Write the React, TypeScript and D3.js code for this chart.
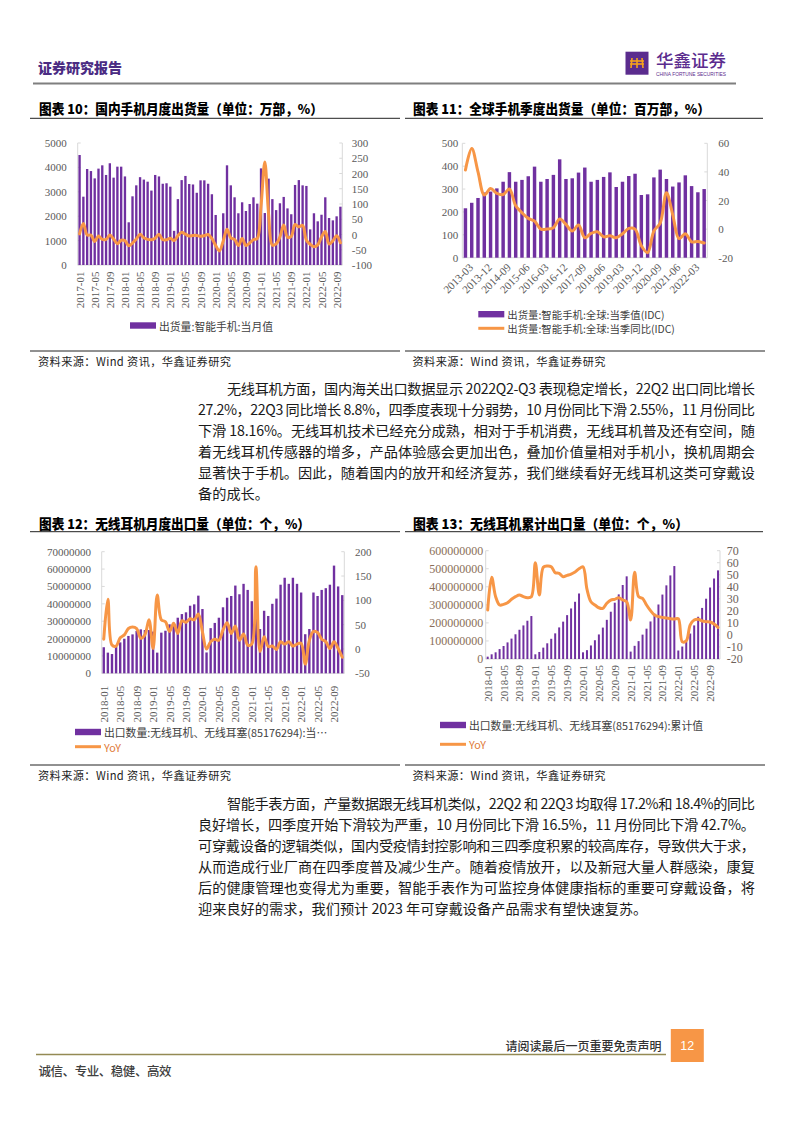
import React from "react";
import * as d3 from "d3";

// ---------- categories ----------
function months(y: number, m: number, n: number): string[] {
  const out: string[] = [];
  for (let i = 0; i < n; i++) {
    const mm = ((m - 1 + i) % 12) + 1;
    const yy = y + Math.floor((m - 1 + i) / 12);
    out.push(`${yy}-${String(mm).padStart(2, "0")}`);
  }
  return out;
}
function quarters(y: number, n: number): string[] {
  const out: string[] = [];
  for (let i = 0; i < n; i++) {
    const q = (i % 4) + 1;
    out.push(`${y + Math.floor(i / 4)}-${String(q * 3).padStart(2, "0")}`);
  }
  return out;
}

// ---------- Chart 10: domestic phone monthly shipments ----------
const c10Cats = months(2017, 1, 70);
const c10Ship = [
  4508, 2800, 3934, 3850, 3550, 3950, 4085, 3690, 4170, 3580, 4030, 4030,
  3630, 1750, 2815, 3265, 3600, 3500, 3415, 3050, 3690, 3630, 3330, 3350,
  3210, 1400, 2700, 3480, 3650, 3320, 3300, 2960, 3470, 3470, 3330, 2900,
  2050, 640, 2120, 4085, 3265, 2775, 2120, 2570, 2213, 2500, 2775, 2515,
  3960, 2130, 3540, 2700, 2250, 2530, 2790, 2320, 2080, 3280, 3480, 3265,
  3240, 1460, 2120, 1790, 2060, 2775, 1925, 1830, 1995, 2390,
];
const c10Yoy = [
  2, 36, -2, -2, -23, -5, -16, -16, -2, -15, -30, -19,
  -20, -37, -28, -15, 1, -11, -16, -17, -12, 1, -17, -17,
  -12, -20, -4, 7, 1, -5, -3, -3, -6, -4, 0, -13,
  -36, -54, -21, 17, -11, -16, -36, -13, -36, -28, -17, -13,
  93, 238, 67, -35, -31, -8, 31, -9, -6, 33, 25, 30,
  -19, -32, -40, -34, -8, 10, -31, -21, -4, -27,
];
const c10LeftTicks = [0, 1000, 2000, 3000, 4000, 5000];
const c10RightTicks = [-100, -50, 0, 50, 100, 150, 200, 250, 300];

// ---------- Chart 11: global smartphone quarterly shipments ----------
const c11Cats = quarters(2013, 39);
const c11Ship = [
  216, 240, 261, 285, 289, 303, 332, 374, 332, 340, 356, 398, 332, 344, 362, 430,
  344, 347, 372, 394, 332, 340, 353, 373, 309, 332, 357, 367, 274, 277, 351, 385,
  344, 311, 329, 360, 313, 286, 300,
];
const c11Yoy = [
  41.3, 56.4, 40, 23.8, 28.4, 25, 24.2, 28, 16.3, 11.4, 7.5, 5.6, 0, 0, 1, 7,
  3.3, -1.4, 2.8, -6, -3, -1.9, -5.4, -4.7, -6, -3.3, 0.5, 0, -11.7, -16.5, -1.3, 4.2,
  25.5, 10, -6.7, -3.2, -8.9, -8.7, -9.7,
];
const c11LeftTicks = [0, 100, 200, 300, 400, 500];
const c11RightTicks = [-20, 0, 20, 40, 60];

// ---------- Chart 12: wireless earphone monthly exports (million units) ----------
const c12Cats = months(2018, 1, 59);
const c12Exports = [
  15, 11.9, 11.1, 15.3, 17.8, 19.9, 21.5, 22.4, 24.4, 25.3, 24.9, 24.9,
  24, 11.9, 23.4, 24.5, 28.2, 29.1, 32, 34.1, 35.1, 38.9, 39.7, 44.7,
  37, 12, 26, 29, 32, 38, 43.5, 44.5, 50.5, 45.5, 51.5, 48,
  41.5, 32, 25.5, 36, 33, 40, 43, 51, 55, 51.5, 55, 51.5,
  46.5, 22.5, 25.5, 46.5, 44.5, 48, 49, 51, 62, 50, 45,
];
const c12Yoy = [
  20, 102, 8, 6, 23, 29, 42, 45, 42, 22, 29, 60,
  1, 111, 60, 56, 36, 53, 32, 58, 55, 62, 60, 72,
  35, 0, 15, 20, 18, 39, 54, 32, 47, 18, 31, 8,
  10, 169, -5, 25, 5, 6, -1, 15, 10, 15, 6, 10,
  12, -31, 18, 36, 34, 20, 15, 1, 15, 1, -17,
];
const c12LeftTicks = [0, 10, 20, 30, 40, 50, 60, 70];
const c12RightTicks = [-50, 0, 50, 100, 150, 200];

// ---------- Chart 13: wireless earphone cumulative exports (million units) ----------
const c13Cats = months(2018, 1, 59);
const c13Cum = [
  13, 26, 37, 55, 72, 92, 113, 137, 162, 186, 212, 238,
  26, 39, 63, 87, 112, 142, 175, 207, 243, 280, 317, 363,
  37, 49, 75, 104, 136, 174, 217, 262, 312, 358, 410, 458,
  41, 73, 99, 135, 168, 208, 251, 302, 357, 408, 463, 515,
  47, 69, 95, 141, 186, 234, 283, 334, 396, 446, 491,
];
const c13Yoy = [
  20.7, 47.9, 31.8, 24.9, 25.4, 26.8, 29.6, 31.8, 33.2, 31.8, 31, 31.8,
  60, 33.2, 56.2, 57.3, 56.7, 51.7, 51.2, 48.4, 49.5, 50.6, 52.3, 55,
  56.5, 38, 27.6, 24.9, 22.6, 22.1, 26.3, 29, 29.6, 31, 29, 27.6,
  12.4, 52, 31.8, 30.4, 24.9, 20.2, 16.6, 15.2, 14.6, 14.1, 13.5, 13.2,
  13.5, -5.6, -5, 8.3, 12.4, 13, 11.6, 11, 10.7, 9.1, 6.3,
];
const c13LeftTicks = [0, 100, 200, 300, 400, 500, 600];
const c13RightTicks = [-20, -10, 0, 10, 20, 30, 40, 50, 60, 70];

// ---------- text ----------
const para1 = [
  "无线耳机方面，国内海关出口数据显示 2022Q2-Q3 表现稳定增长，22Q2 出口同比增长",
  "27.2%，22Q3 同比增长 8.8%，四季度表现十分弱势，10 月份同比下滑 2.55%，11 月份同比",
  "下滑 18.16%。无线耳机技术已经充分成熟，相对于手机消费，无线耳机普及还有空间，随",
  "着无线耳机传感器的增多，产品体验感会更加出色，叠加价值量相对手机小，换机周期会",
  "显著快于手机。因此，随着国内的放开和经济复苏，我们继续看好无线耳机这类可穿戴设",
  "备的成长。",
];
const para2 = [
  "智能手表方面，产量数据跟无线耳机类似，22Q2 和 22Q3 均取得 17.2%和 18.4%的同比",
  "良好增长，四季度开始下滑较为严重，10 月份同比下滑 16.5%，11 月份同比下滑 42.7%。",
  "可穿戴设备的逻辑类似，国内受疫情封控影响和三四季度积累的较高库存，导致供大于求，",
  "从而造成行业厂商在四季度普及减少生产。随着疫情放开，以及新冠大量人群感染，康复",
  "后的健康管理也变得尤为重要，智能手表作为可监控身体健康指标的重要可穿戴设备，将",
  "迎来良好的需求，我们预计 2023 年可穿戴设备产品需求有望快速复苏。",
];

const PURPLE = "#7030A0";
const ORANGE = "#F79646";
const AXIS_TXT = "#595959";
const CJK = "'Noto Sans CJK SC', 'Noto Sans', sans-serif";
const SERIF = "'Liberation Serif', 'DejaVu Serif', serif";

type ComboProps = {
  cats: string[];
  bars: number[];
  line: number[];
  x0: number;
  x1: number;
  y0: number;
  y1: number;
  lDomain: [number, number];
  lTicks: number[];
  lFmt: (v: number) => string;
  rDomain: [number, number];
  rTicks: number[];
  padInner: number;
  labelStep: number;
  angle: number;
  labelOffset: number;
  lGap: number;
  rGap: number;
  fontSize: number;
  lColor?: string;
  rColor?: string;
};

function Combo(p: ComboProps) {
  const x = d3
    .scaleBand<string>()
    .domain(p.cats)
    .range([p.x0, p.x1])
    .paddingInner(p.padInner)
    .paddingOuter(p.padInner / 2);
  const yL = d3.scaleLinear().domain(p.lDomain).range([p.y1, p.y0]);
  const yR = d3.scaleLinear().domain(p.rDomain).range([p.y1, p.y0]);
  const bw = x.bandwidth();
  const cx = (i: number) => (x(p.cats[i]) as number) + bw / 2;
  const lineGen = d3
    .line<number>()
    .x((_, i) => cx(i))
    .y((d) => yR(d))
    .curve(d3.curveCatmullRom.alpha(0.5));
  const axisColor = "#D9D9D9";
  return (
    <g>
      <line x1={p.x0} x2={p.x0} y1={p.y0} y2={p.y1} stroke={axisColor} strokeWidth={1} />
      <line x1={p.x1} x2={p.x1} y1={p.y0} y2={p.y1} stroke={axisColor} strokeWidth={1} />
      <line x1={p.x0} x2={p.x1} y1={p.y1} y2={p.y1} stroke={axisColor} strokeWidth={1} />
      {p.lTicks.map((t) => (
        <g key={"l" + t}>
          <line x1={p.x0} x2={p.x0 + 3} y1={yL(t)} y2={yL(t)} stroke={axisColor} />
          <text
            x={p.x0 - p.lGap}
            y={yL(t)}
            textAnchor="end"
            dominantBaseline="central"
            fontFamily={SERIF}
            fontSize={p.fontSize}
            fill={p.lColor || AXIS_TXT}
          >
            {p.lFmt(t)}
          </text>
        </g>
      ))}
      {p.rTicks.map((t) => (
        <g key={"r" + t}>
          <line x1={p.x1 - 3} x2={p.x1} y1={yR(t)} y2={yR(t)} stroke={axisColor} />
          <text
            x={p.x1 + p.rGap}
            y={yR(t)}
            textAnchor="start"
            dominantBaseline="central"
            fontFamily={SERIF}
            fontSize={p.fontSize}
            fill={p.rColor || AXIS_TXT}
          >
            {t}
          </text>
        </g>
      ))}
      {p.bars.map((v, i) => (
        <rect
          key={"b" + i}
          x={x(p.cats[i])}
          y={yL(v)}
          width={bw}
          height={p.y1 - yL(v)}
          fill={PURPLE}
        />
      ))}
      <path
        d={lineGen(p.line) || ""}
        fill="none"
        stroke={ORANGE}
        strokeWidth={3}
        strokeLinejoin="round"
        strokeLinecap="round"
      />
      {p.cats.map((c, i) =>
        i % p.labelStep === 0 ? (
          p.angle === -90 ? (
            <text
              key={"x" + c}
              transform={`translate(${cx(i)},${p.y1 + p.labelOffset}) rotate(-90)`}
              textAnchor="end"
              dominantBaseline="central"
              fontFamily={SERIF}
              fontSize={11}
              fill={AXIS_TXT}
            >
              {c}
            </text>
          ) : (
            <text
              key={"x" + c}
              transform={`translate(${cx(i) + 3},${p.y1 + p.labelOffset}) rotate(-45)`}
              textAnchor="end"
              dy="0.7em"
              fontFamily={SERIF}
              fontSize={11}
              fill={AXIS_TXT}
            >
              {c}
            </text>
          )
        ) : null
      )}
    </g>
  );
}

function Title({ x, y, text, w }: { x: number; y: number; text: string; w: number }) {
  return (
    <text
      x={x}
      y={y}
      dominantBaseline="central"
      fontFamily={CJK}
      fontWeight={900}
      fontSize={13.5}
      fill="#000"
      textLength={w}
      lengthAdjust="spacingAndGlyphs"
    >
      {text}
    </text>
  );
}

function LegendBar({ x, y, text, fs = 10.8 }: { x: number; y: number; text: string; fs?: number }) {
  return (
    <g>
      <rect x={x} y={y - 3.2} width={26} height={6.4} fill={PURPLE} />
      <text x={x + 29} y={y} dominantBaseline="central" fontFamily={CJK} fontSize={fs} fill="#404040">
        {text}
      </text>
    </g>
  );
}
function LegendLine({ x, y, text, color, fs = 10.8 }: { x: number; y: number; text: string; color?: string; fs?: number }) {
  return (
    <g>
      <line x1={x} x2={x + 26} y1={y} y2={y} stroke={ORANGE} strokeWidth={3} />
      <text x={x + 29} y={y} dominantBaseline="central" fontFamily={CJK} fontSize={fs} fill={color || "#404040"}>
        {text}
      </text>
    </g>
  );
}

function Paragraph({ lines, y0 }: { lines: string[]; y0: number }) {
  return (
    <g>
      {lines.map((l, i) => {
        const indent = i === 0;
        const x = indent ? 227 : 198;
        const last = i === lines.length - 1;
        return (
          <text
            key={i}
            x={x}
            y={y0 + i * 21}
            dominantBaseline="central"
            fontFamily={CJK}
            fontSize={14.2}
            fill="#1a1a1a"
            {...(last ? {} : { textLength: 755 - x, lengthAdjust: "spacing" })}
          >
            {l}
          </text>
        );
      })}
    </g>
  );
}

export default function App() {
  const fmtInt = (v: number) => String(v);
  const fmtMillion = (v: number) => String(Math.round(v * 1e6));
  return (
    <svg
      width={794}
      height={1123}
      viewBox="0 0 794 1123"
      style={{ position: "absolute", left: 0, top: 0, background: "#fff" }}
    >
      <rect x={0} y={0} width={794} height={1123} fill="#fff" />
      {/* header */}
      <text x={38} y={67} dominantBaseline="central" fontFamily={CJK} fontWeight={900} fontSize={14} fill="#4B2C83" textLength={84}>
        证券研究报告
      </text>
      <rect x={625.5} y={51.7} width={23} height={23} fill="#5B2C8E" />
      <g stroke="#F7A21B" strokeWidth={1.6} fill="none">
        <line x1={630} x2={644} y1={61} y2={61} />
        <line x1={630} x2={644} y1={64} y2={64} />
        <line x1={632} x2={631} y1={58} y2={68} />
        <line x1={637} x2={637} y1={58} y2={68} />
        <line x1={642} x2={643} y1={58} y2={68} />
      </g>
      <text x={656} y={59.5} dominantBaseline="central" fontFamily={CJK} fontWeight={500} fontSize={17.5} fill="#5B2C8E" textLength={70} lengthAdjust="spacingAndGlyphs">
        华鑫证券
      </text>
      <text x={656} y={74} dominantBaseline="central" fontFamily="'Liberation Sans', sans-serif" fontSize={5.2} fill="#5B2C8E" textLength={70} lengthAdjust="spacingAndGlyphs">
        CHINA FORTUNE SECURITIES
      </text>
      <line x1={33} x2={736} y1={83.5} y2={83.5} stroke="#7F7F7F" strokeWidth={2} />

      {/* titles row 1 */}
      <Title x={39} y={108.3} w={284} text="图表 10：国内手机月度出货量（单位：万部，%）" />
      <Title x={413} y={108.3} w={297} text="图表 11：全球手机季度出货量（单位：百万部，%）" />
      <line x1={30} x2={400} y1={118.3} y2={118.3} stroke="#222" strokeWidth={1} />
      <line x1={405} x2={763} y1={118.3} y2={118.3} stroke="#222" strokeWidth={1} />

      <Combo
        cats={c10Cats}
        bars={c10Ship}
        line={c10Yoy}
        x0={77.7}
        x1={342.3}
        y0={143}
        y1={265}
        lDomain={[0, 5000]}
        lTicks={c10LeftTicks}
        lFmt={fmtInt}
        rDomain={[-100, 300]}
        rTicks={c10RightTicks}
        padInner={0.38}
        labelStep={4}
        angle={-90}
        labelOffset={6.5}
        lGap={11}
        rGap={9.5}
        fontSize={11}
      />
      <LegendBar x={130} y={325.5} text="出货量:智能手机:当月值" />

      <Combo
        cats={c11Cats}
        bars={c11Ship}
        line={c11Yoy}
        x0={462.3}
        x1={707.3}
        y0={143.3}
        y1={257.7}
        lDomain={[0, 500]}
        lTicks={c11LeftTicks}
        lFmt={fmtInt}
        rDomain={[-20, 60]}
        rTicks={c11RightTicks}
        padInner={0.45}
        labelStep={3}
        angle={-45}
        labelOffset={5}
        lGap={4}
        rGap={11}
        fontSize={11}
      />
      <LegendBar x={478.3} y={314.2} fs={10.4} text="出货量:智能手机:全球:当季值(IDC)" />
      <LegendLine x={478.3} y={328.3} fs={10.4} text="出货量:智能手机:全球:当季同比(IDC)" />

      {/* sources row 1 */}
      <line x1={30} x2={400} y1={351} y2={351} stroke="#222" strokeWidth={1} />
      <line x1={405} x2={765} y1={351} y2={351} stroke="#222" strokeWidth={1} />
      <text x={38} y={361} dominantBaseline="central" fontFamily={CJK} fontSize={11.2} fill="#222" textLength={193}>
        资料来源：Wind 资讯，华鑫证券研究
      </text>
      <text x={412.5} y={361} dominantBaseline="central" fontFamily={CJK} fontSize={11.2} fill="#222" textLength={193}>
        资料来源：Wind 资讯，华鑫证券研究
      </text>

      <Paragraph lines={para1} y0={388} />

      {/* titles row 2 */}
      <Title x={39} y={523.3} w={271} text="图表 12：无线耳机月度出口量（单位：个，%）" />
      <Title x={413} y={523.3} w={275} text="图表 13：无线耳机累计出口量（单位：个，%）" />
      <line x1={30} x2={400} y1={531.7} y2={531.7} stroke="#222" strokeWidth={1} />
      <line x1={405} x2={763} y1={531.7} y2={531.7} stroke="#222" strokeWidth={1} />

      <Combo
        cats={c12Cats}
        bars={c12Exports}
        line={c12Yoy}
        x0={101.7}
        x1={344.3}
        y0={551.7}
        y1={673.3}
        lDomain={[0, 70]}
        lTicks={c12LeftTicks}
        lFmt={fmtMillion}
        rDomain={[-50, 200]}
        rTicks={c12RightTicks}
        padInner={0.42}
        labelStep={4}
        angle={-90}
        labelOffset={12.5}
        lGap={10.7}
        rGap={10.7}
        fontSize={11}
      />
      <LegendBar x={75} y={732} text="出口数量:无线耳机、无线耳塞(85176294):当…" />
      <LegendLine x={75} y={746.7} text="YoY" color="#E07B39" />

      <Combo
        cats={c13Cats}
        bars={c13Cum}
        line={c13Yoy}
        x0={485.7}
        x1={720}
        y0={550.7}
        y1={659}
        lDomain={[0, 600]}
        lTicks={c13LeftTicks}
        lFmt={fmtMillion}
        rDomain={[-20, 70]}
        rTicks={c13RightTicks}
        padInner={0.5}
        labelStep={4}
        angle={-90}
        labelOffset={6}
        lGap={2.5}
        rGap={6.7}
        fontSize={12}
        lColor="#8A6E58"
        rColor="#6E6259"
      />
      <LegendBar x={440} y={725} text="出口数量:无线耳机、无线耳塞(85176294):累计值" />
      <LegendLine x={440} y={744.3} text="YoY" color="#E07B39" />

      {/* sources row 2 */}
      <line x1={30} x2={400} y1={765} y2={765} stroke="#222" strokeWidth={1} />
      <line x1={405} x2={765} y1={765} y2={765} stroke="#222" strokeWidth={1} />
      <text x={38} y={774.5} dominantBaseline="central" fontFamily={CJK} fontSize={11.2} fill="#222" textLength={193}>
        资料来源：Wind 资讯，华鑫证券研究
      </text>
      <text x={412.5} y={774.5} dominantBaseline="central" fontFamily={CJK} fontSize={11.2} fill="#222" textLength={193}>
        资料来源：Wind 资讯，华鑫证券研究
      </text>

      <Paragraph lines={para2} y0={803} />

      {/* footer */}
      <text x={661.5} y={1045} textAnchor="end" dominantBaseline="central" fontFamily={CJK} fontWeight={500} fontSize={12} fill="#333">
        请阅读最后一页重要免责声明
      </text>
      <line x1={36} x2={666} y1={1054.5} y2={1054.5} stroke="#948A54" strokeWidth={1.5} />
      <rect x={670.8} y={1029} width={33} height={33} fill={ORANGE} />
      <text x={687.3} y={1045.5} textAnchor="middle" dominantBaseline="central" fontFamily="'Liberation Sans', Arial, sans-serif" fontSize={12.5} fill="#fff">
        12
      </text>
      <text x={38.5} y={1070} dominantBaseline="central" fontFamily={CJK} fontWeight={500} fontSize={12.5} fill="#404040" textLength={133}>
        诚信、专业、稳健、高效
      </text>
    </svg>
  );
}
